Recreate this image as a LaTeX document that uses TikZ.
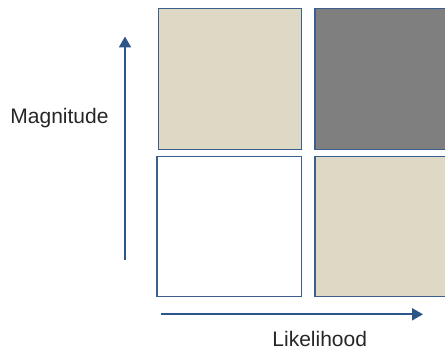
\documentclass[tikz,border=0pt]{standalone}
\usepackage{fontspec}
\setmainfont{Liberation Sans}
\usetikzlibrary{arrows.meta}
\definecolor{tan}{HTML}{DDD9C4}
\definecolor{darkcell}{HTML}{7F7F7F}
\definecolor{cellborder}{HTML}{3A5F8F}
\definecolor{axisblue}{HTML}{2C5689}
\begin{document}
\begin{tikzpicture}[x=1pt,y=-1pt,
  cell/.style={draw=cellborder,line width=1.2pt},
  axis/.style={draw=axisblue,line width=2.2pt,-{Triangle[length=11pt,width=12pt]}},
  lbl/.style={font=\fontsize{21}{25}\selectfont,text=black!85,inner sep=0pt,anchor=base}]
\useasboundingbox (0,0) rectangle (445,353);
\begin{scope}
\clip (0,0) rectangle (445,353);
% risk matrix cells
\draw[cell,fill=tan] (158.3,8.3) rectangle (301.7,149.3);
\draw[cell,fill=darkcell] (315,8.3) rectangle (460,149.3);
\draw[cell,fill=white] (157,156.7) rectangle (301.7,296.7);
\draw[cell,fill=tan] (315,156.7) rectangle (460,296.7);
\end{scope}
% axes
\coordinate (vs) at (125,260);
\coordinate (ve) at (125,36.5);
\coordinate (hs) at (161,314.3);
\coordinate (he) at (423,314.3);
\draw[axis] (vs) -- (ve);
\draw[axis] (hs) -- (he);
% axis labels
\node[lbl] (mag) at (59.5,123.5) {Magnitude};
\node[lbl] (lik) at (319.7,346.7) {Likelihood};
\end{tikzpicture}
\end{document}
